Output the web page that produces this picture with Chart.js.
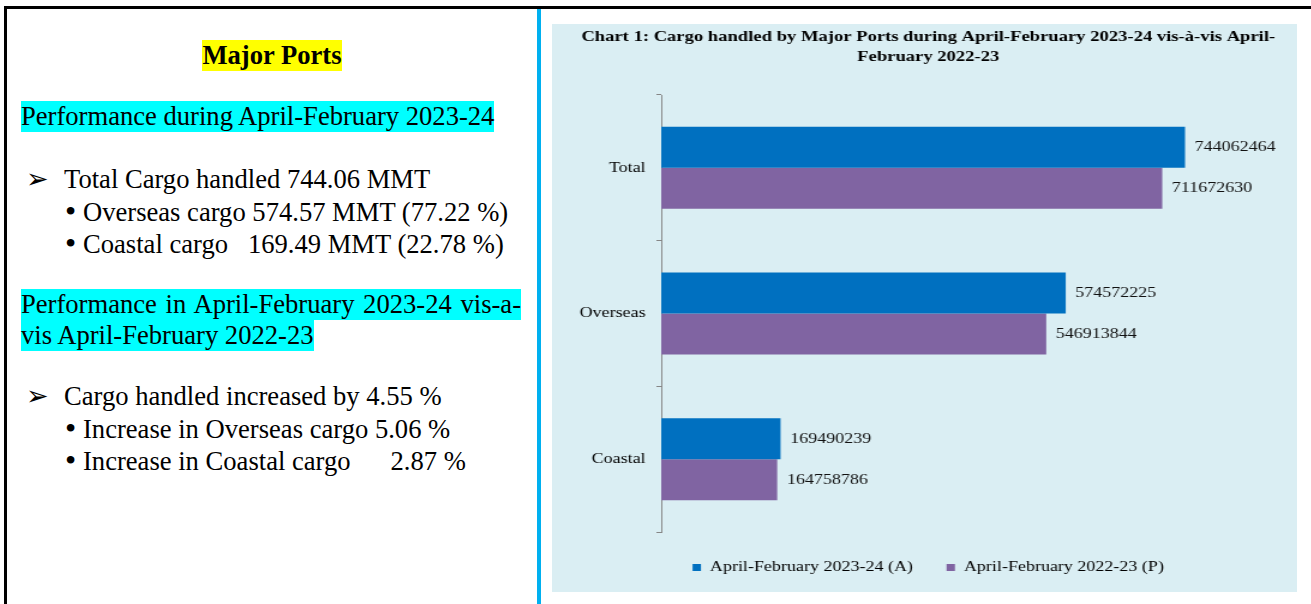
<!DOCTYPE html>
<html>
<head>
<meta charset="utf-8">
<script src="https://cdn.jsdelivr.net/npm/chart.js@4.4.0/dist/chart.umd.min.js"></script>
<style>
  html, body { margin: 0; padding: 0; background: #fff; }
  body { width: 1311px; height: 604px; position: relative; overflow: hidden;
         font-family: 'Liberation Serif', 'Times New Roman', serif; color: #000; }
  .frame { position: absolute; left: 4px; top: 6px; width: 1400px; height: 700px;
           border-left: 3px solid #000; border-top: 3px solid #000; }
  .divider { position: absolute; left: 537px; top: 9px; width: 4px; height: 600px; background: #00b0f0; }
  .line { position: absolute; font-size: 26.6px; line-height: 31px; white-space: pre; }
  .dot { position: absolute; font-size: 32px; line-height: 31px; }
  .hl-y { display: inline-block; background: #ffff00; }
  .hl-c { display: inline-block; background: #00ffff; }
  .arrow { position: absolute; font-family: 'DejaVu Sans', sans-serif; font-size: 27px; line-height: 31px; }
  .chart-box { position: absolute; left: 552px; top: 24px; width: 745px; height: 568px;
               background: #daeef3; overflow: hidden; }
  .chart-inner { position: absolute; left: 0; top: 0; width: 621px; height: 568px;
                 transform: scaleX(1.2); transform-origin: 0 0; }
</style>
</head>
<body>
<div class="frame"></div>
<div class="divider"></div>

<!-- left text panel -->
<div class="line" style="left:7px; top:40px; width:530px; text-align:center;"><b class="hl-y">Major Ports</b></div>
<div class="line" style="left:21px; top:101px;"><span class="hl-c">Performance during April-February 2023-24</span></div>

<div class="arrow" style="left:26px; top:163px;">➢</div>
<div class="line" style="left:64px; top:164px;">Total Cargo handled 744.06 MMT</div>
<div class="dot" style="left:65px; top:196px;">•</div>
<div class="line" style="left:83px; top:197px;">Overseas cargo 574.57 MMT (77.22 %)</div>
<div class="dot" style="left:65px; top:228px;">•</div>
<div class="line" style="left:83px; top:229px;">Coastal cargo   169.49 MMT (22.78 %)</div>

<div class="line" style="left:21px; top:289px; width:500px; height:31px; background:#00ffff; text-align:justify; text-align-last:justify; white-space:normal;">Performance in April-February 2023-24 vis-a-</div>
<div class="line" style="left:21px; top:320px;"><span class="hl-c">vis April-February 2022-23</span></div>

<div class="arrow" style="left:26px; top:380px;">➢</div>
<div class="line" style="left:64px; top:381px;">Cargo handled increased by 4.55 %</div>
<div class="dot" style="left:65px; top:413px;">•</div>
<div class="line" style="left:83px; top:414px;">Increase in Overseas cargo 5.06 %</div>
<div class="dot" style="left:65px; top:445px;">•</div>
<div class="line" style="left:83px; top:446px;">Increase in Coastal cargo      2.87 %</div>

<!-- chart panel -->
<div class="chart-box">
  <div class="chart-inner"><canvas id="cargoChart"></canvas></div>
</div>

<script>
// data
const categories = ['Total', 'Overseas', 'Coastal'];
const seriesNames = ['April-February 2023-24 (A)', 'April-February 2022-23 (P)'];
const cargo2023 = [744062464, 574572225, 169490239];
const cargo2022 = [711672630, 546913844, 164758786];
const titleLines = [
  'Chart 1: Cargo handled by Major Ports during April-February 2023-24 vis-à-vis April-',
  'February 2022-23'
];

const serif = "'Liberation Serif', 'Times New Roman', serif";

// value labels to the right of each bar
const barValueLabels = {
  id: 'barValueLabels',
  afterDatasetsDraw(chart) {
    const ctx = chart.ctx;
    ctx.save();
    ctx.font = '15px ' + serif;
    ctx.fillStyle = '#111';
    ctx.textBaseline = 'middle';
    ctx.textAlign = 'left';
    chart.data.datasets.forEach((ds, i) => {
      chart.getDatasetMeta(i).data.forEach((bar, j) => {
        ctx.fillText(String(ds.data[j]), bar.x + 8, bar.y);
      });
    });
    ctx.restore();
  }
};

const ctx = document.getElementById('cargoChart').getContext('2d');
new Chart(ctx, {
  type: 'bar',
  data: {
    labels: categories,
    datasets: [
      { label: seriesNames[0], data: cargo2023, backgroundColor: '#0070c0', borderWidth: 0 },
      { label: seriesNames[1], data: cargo2022, backgroundColor: '#8064a2', borderWidth: 0 }
    ]
  },
  options: {
    indexAxis: 'y',
    responsive: true,
    maintainAspectRatio: false,
    animation: false,
    datasets: { bar: { barPercentage: 1.0, categoryPercentage: 0.563 } },
    layout: { padding: { left: 8, right: 2, top: 0, bottom: 7 } },
    plugins: {
      title: {
        display: true,
        text: titleLines,
        color: '#000',
        font: { family: serif, size: 15.5, weight: 'bold', lineHeight: 20 / 15.5 },
        padding: { top: 3, bottom: 28 }
      },
      legend: {
        position: 'bottom',
        labels: {
          color: '#000',
          font: { family: serif, size: 15 },
          boxWidth: 7,
          boxHeight: 7,
          padding: 28
        }
      },
      tooltip: { enabled: false }
    },
    scales: {
      x: { display: false, min: 0, max: 900000000 },
      y: {
        afterFit(scale) { scale.width = 83; },
        grid: { drawOnChartArea: false, drawTicks: true, tickLength: 4, color: '#868686', offset: true },
        border: { display: true, color: '#868686' },
        ticks: { color: '#000', font: { family: serif, size: 15 }, padding: 9 }
      }
    }
  },
  plugins: [barValueLabels]
});
</script>
</body>
</html>
